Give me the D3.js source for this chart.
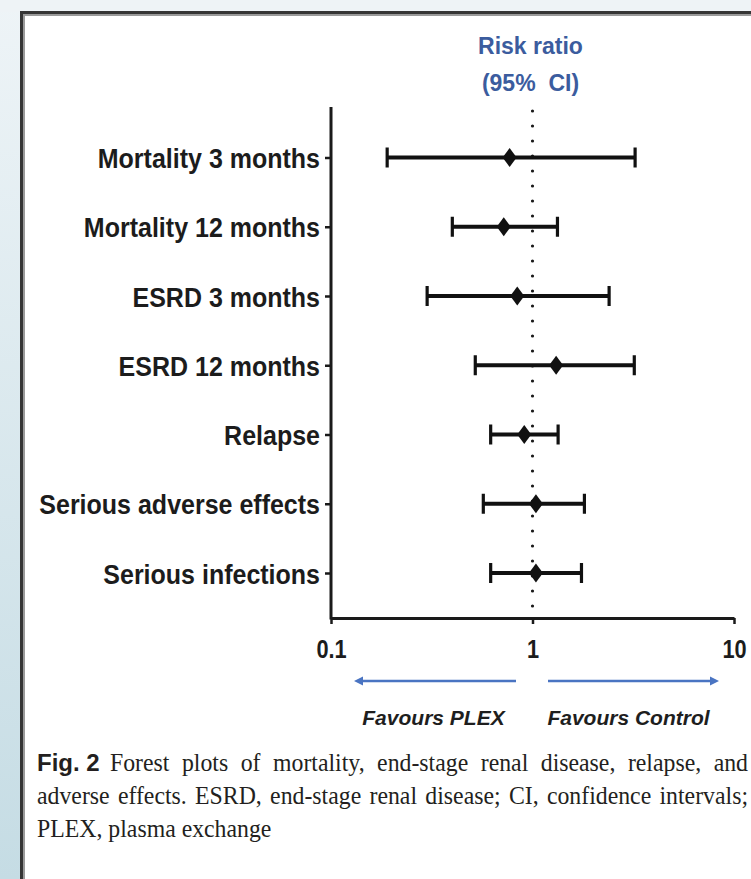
<!DOCTYPE html>
<html>
<head>
<meta charset="utf-8">
<script src="https://cdn.jsdelivr.net/npm/d3@7"></script>
<style>
  html, body { margin: 0; padding: 0; background: #ffffff; }
  svg { display: block; }
</style>
</head>
<body>
<svg id="chart" width="751" height="879"></svg>
<script>
// Outcomes and pooled risk ratios with 95% confidence intervals
const categories = [
  "Mortality 3 months",
  "Mortality 12 months",
  "ESRD 3 months",
  "ESRD 12 months",
  "Relapse",
  "Serious adverse effects",
  "Serious infections"
];
const riskRatio = [0.77, 0.72, 0.84, 1.31, 0.91, 1.04, 1.04];
const ciLower   = [0.19, 0.40, 0.30, 0.52, 0.62, 0.57, 0.62];
const ciUpper   = [3.23, 1.33, 2.40, 3.20, 1.34, 1.81, 1.75];
const xTicks    = [0.1, 1, 10];
const xTickLabels = ["0.1", "1", "10"];

const titleLines = ["Risk ratio", "(95%  CI)"];
const favourLabels = ["Favours PLEX", "Favours Control"];
const captionLabel = "Fig. 2";
const captionLines = [
  "Forest plots of mortality, end-stage renal disease, relapse, and",
  "adverse effects. ESRD, end-stage renal disease; CI, confidence intervals;",
  "PLEX, plasma exchange"
];

const rows = categories.map((c, i) => ({
  name: c, rr: riskRatio[i], lo: ciLower[i], hi: ciUpper[i]
}));

const W = 751, H = 879;
const svg = d3.select("#chart");
const defs = svg.append("defs");

// page backdrop
const bg = defs.append("linearGradient").attr("id", "bgGrad")
  .attr("x1", 0).attr("y1", 0).attr("x2", 0).attr("y2", 1);
bg.append("stop").attr("offset", "0%").attr("stop-color", "#eef4f7");
bg.append("stop").attr("offset", "100%").attr("stop-color", "#c5dce4");
svg.append("rect").attr("width", W).attr("height", H).attr("fill", "url(#bgGrad)");
svg.append("rect").attr("width", W).attr("height", 12).attr("fill", "#eef3f6");

// white figure panel with dark frame on top and left
const px = 20, py = 11;
svg.append("rect").attr("x", px).attr("y", py)
  .attr("width", W - px + 10).attr("height", H - py + 10)
  .attr("fill", "#ffffff");
svg.append("path")
  .attr("d", `M${px + 1.5},${H + 5}V${py + 1.5}H${W + 5}`)
  .attr("fill", "none").attr("stroke", "#353535").attr("stroke-width", 3);
svg.append("path")
  .attr("d", `M${px + 4},${H + 5}V${py + 4}H${W + 5}`)
  .attr("fill", "none").attr("stroke", "#9a9a9a").attr("stroke-width", 2);

// scales
const x = d3.scaleLog().domain([0.1, 10]).range([331, 734]);
const y = d3.scalePoint().domain(categories).range([157.5, 573]);
const axisTop = 107, axisBottom = 618;
const sans = "'Liberation Sans', Arial, Helvetica, sans-serif";

// reference line at RR = 1
svg.append("line")
  .attr("x1", x(1)).attr("x2", x(1))
  .attr("y1", 111).attr("y2", 609)
  .attr("stroke", "#1a1a1a").attr("stroke-width", 3.2)
  .attr("stroke-linecap", "round")
  .attr("stroke-dasharray", "0 15");

// y axis: ticks and outcome labels
const yAxis = svg.append("g")
  .attr("transform", `translate(${x(0.1)},0)`)
  .call(d3.axisLeft(y).tickSize(6).tickSizeOuter(0));
yAxis.select(".domain").remove();
yAxis.selectAll(".tick line").attr("stroke", "#1a1a1a").attr("stroke-width", 2.5);
yAxis.selectAll(".tick text")
  .attr("x", 0).attr("dy", 0)
  .attr("transform", "translate(-11,10) scale(0.926,1)")
  .attr("font-family", sans).attr("font-weight", "bold")
  .attr("font-size", 27).attr("fill", "#1c1c1c");
svg.append("line")
  .attr("x1", x(0.1)).attr("x2", x(0.1))
  .attr("y1", axisTop).attr("y2", axisBottom + 1.5)
  .attr("stroke", "#1a1a1a").attr("stroke-width", 3);

// x axis (log scale)
const xAxis = svg.append("g")
  .attr("transform", `translate(0,${axisBottom})`)
  .call(d3.axisBottom(x).tickValues(xTicks)
    .tickFormat((d, i) => xTickLabels[i]).tickSize(6).tickSizeOuter(0));
xAxis.select(".domain").attr("stroke", "#1a1a1a").attr("stroke-width", 3);
xAxis.selectAll(".tick line").attr("stroke", "#1a1a1a").attr("stroke-width", 2.5);
xAxis.selectAll(".tick text")
  .attr("y", 0).attr("dy", 0)
  .attr("transform", "translate(0,40) scale(0.87,1)")
  .attr("font-family", sans).attr("font-weight", "bold")
  .attr("font-size", 25).attr("fill", "#1c1c1c");

// confidence intervals
const g = svg.append("g").attr("stroke", "#111").attr("fill", "#111");
g.selectAll(".ci").data(rows).join("line")
  .attr("x1", d => x(d.lo)).attr("x2", d => x(d.hi))
  .attr("y1", d => y(d.name)).attr("y2", d => y(d.name))
  .attr("stroke-width", 4);
g.selectAll(".capL").data(rows).join("line")
  .attr("x1", d => x(d.lo)).attr("x2", d => x(d.lo))
  .attr("y1", d => y(d.name) - 10).attr("y2", d => y(d.name) + 10)
  .attr("stroke-width", 3.2);
g.selectAll(".capR").data(rows).join("line")
  .attr("x1", d => x(d.hi)).attr("x2", d => x(d.hi))
  .attr("y1", d => y(d.name) - 10).attr("y2", d => y(d.name) + 10)
  .attr("stroke-width", 3.2);
// point estimates as diamonds
g.selectAll(".pt").data(rows).join("path")
  .attr("transform", d => `translate(${x(d.rr)},${y(d.name)})`)
  .attr("d", "M0,-9.5L7,0L0,9.5L-7,0Z")
  .attr("stroke", "none");

// column heading
svg.append("g").selectAll("text").data(titleLines).join("text")
  .attr("x", x(1) - 2).attr("y", (d, i) => 54 + i * 37)
  .attr("text-anchor", "middle")
  .style("white-space", "pre")
  .attr("font-family", sans).attr("font-weight", "bold")
  .attr("font-size", 23).attr("fill", "#3b5c9e")
  .text(d => d);

// direction arrows
const arrowBlue = "#4a74c2";
const arrowY = 681;
svg.append("line").attr("x1", 516).attr("x2", 362).attr("y1", arrowY).attr("y2", arrowY)
  .attr("stroke", arrowBlue).attr("stroke-width", 2.6);
svg.append("path").attr("d", `M354,${arrowY}L363,${arrowY - 4.5}L363,${arrowY + 4.5}Z`)
  .attr("fill", arrowBlue);
svg.append("line").attr("x1", 548).attr("x2", 710).attr("y1", arrowY).attr("y2", arrowY)
  .attr("stroke", arrowBlue).attr("stroke-width", 2.6);
svg.append("path").attr("d", `M719,${arrowY}L710,${arrowY - 4.5}L710,${arrowY + 4.5}Z`)
  .attr("fill", arrowBlue);

svg.append("g").selectAll("text").data(favourLabels).join("text")
  .attr("x", (d, i) => [433.5, 628.5][i]).attr("y", 725)
  .attr("text-anchor", "middle")
  .attr("font-family", sans).attr("font-weight", "bold").attr("font-style", "italic")
  .attr("font-size", 21).attr("fill", "#1e1e1e")
  .text(d => d);

// caption: bold figure label, then condensed serif text justified across the panel
const capLeft = 37, capRight = 748, capTop = 771, capLead = 33, capSx = 0.915;
const serif = "'Liberation Serif', 'Times New Roman', Times, serif";
svg.append("text")
  .attr("x", capLeft).attr("y", capTop)
  .attr("font-family", sans).attr("font-weight", "bold")
  .attr("font-size", 24).attr("fill", "#231f20")
  .text(captionLabel);
captionLines.forEach((ln, i) => {
  const start = i === 0 ? 110 : capLeft;
  const t = svg.append("text")
    .attr("transform", `translate(${start},${capTop + i * capLead}) scale(${capSx},1)`)
    .attr("font-family", serif).attr("font-size", 26)
    .attr("fill", "#231f20")
    .text(ln);
  if (i < captionLines.length - 1) {
    const target = (capRight - start) / capSx;
    const natural = t.node().getComputedTextLength();
    if (natural > target) {
      t.attr("textLength", target).attr("lengthAdjust", "spacingAndGlyphs");
    } else {
      const spaces = ln.split(" ").length - 1;
      t.attr("word-spacing", (target - natural) / Math.max(1, spaces));
    }
  }
});
</script>
</body>
</html>
